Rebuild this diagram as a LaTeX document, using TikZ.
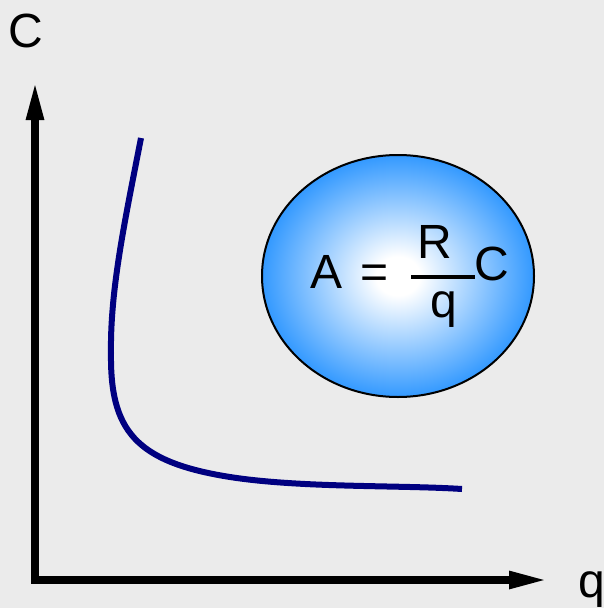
\documentclass[tikz,border=0pt]{standalone}
\usepackage{fontspec}
\setmainfont{Liberation Sans}
\usetikzlibrary{shapes.geometric, arrows.meta, positioning, calc}
\definecolor{canvas}{RGB}{235,235,235}
\definecolor{ballblue}{RGB}{51,153,255}
\definecolor{curvenavy}{RGB}{0,0,128}
\pgfdeclareradialshading{ballglow}{\pgfpoint{0bp}{0bp}}{color(0bp)=(white); color(4bp)=(white); color(25bp)=(ballblue); color(50bp)=(ballblue)}

\begin{document}
\begin{tikzpicture}[
    x=1pt, y=-1pt,
    axis/.style={line width=8pt, line join=miter, {Triangle[length=40pt, width=16pt]}-{Triangle[length=40pt, width=16pt]}},
    label/.style={font=\fontsize{48}{48}\selectfont, inner sep=0pt, anchor=base},
    curve/.style={line width=6pt, curvenavy},
    ball/.style={ellipse, draw, line width=2pt, shading=ballglow, minimum width=272pt, minimum height=242pt, inner sep=0pt},
]
    \fill[canvas] (0,0) rectangle (604,608);
    \useasboundingbox (0,0) rectangle (604,608);

    % axes
    \coordinate (ctop) at (35,80);
    \coordinate (origin) at (35,580);
    \coordinate (qend) at (549,580);
    \draw[axis] (ctop) -- (origin) -- (qend);
    \node[label] (clabel) at (26,47) {C};
    \node[label] (qlabel) at (592,597) {q};

    % cost curve
    \draw[curve] (141,138) .. controls (125,220) and (110,290) .. (111,353)
        .. controls (110,430) and (135,462) .. (230,477)
        .. controls (300,488) and (400,485) .. (462,489);

    % formula in the ball
    \node[ball] (ball) at (398,276) {};
    \node[label] (lhs) at (327,288) {A};
    \node[label] (eq) at (375,288) {=};
    \node[label] (num) at (435,258) {R};
    \node[label] (den) at (444,317) {q};
    \node[label] (rhs) at (492,280) {C};
    \coordinate (barL) at (411,277);
    \coordinate (barR) at (475,277);
    \draw[line width=4pt] (barL) -- (barR);
\end{tikzpicture}
\end{document}
